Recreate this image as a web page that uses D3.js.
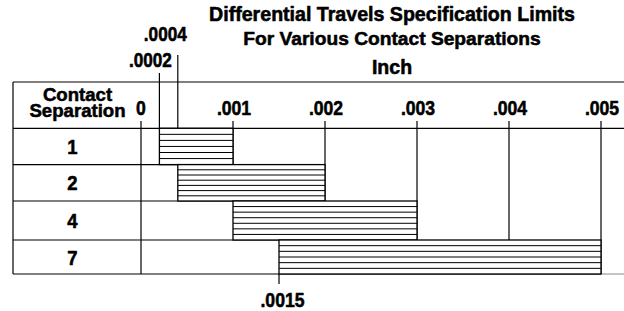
<!DOCTYPE html>
<html>
<head>
<meta charset="utf-8">
<script src="https://cdn.jsdelivr.net/npm/d3@7"></script>
<style>
  html, body { margin: 0; padding: 0; background: #fff; }
  svg { display: block; }
  text { font-family: "Liberation Sans", Arial, Helvetica, sans-serif; font-weight: bold; fill: #000;
         stroke: #000; stroke-width: 0.55px; stroke-linejoin: round; }
</style>
</head>
<body>
<svg id="chart" width="624" height="311"></svg>
<script>
// ---------- data ----------
const titleLines = ["Differential Travels Specification Limits", "For Various Contact Separations", "Inch"];
const headerLabel = ["Contact", "Separation"];
const rowLabels = ["1", "2", "4", "7"];
const limitMin = [0.0002, 0.0004, 0.001, 0.0015];
const limitMax = [0.001, 0.002, 0.003, 0.005];
const tickValues = [0, 0.001, 0.002, 0.003, 0.004, 0.005];
const tickLabels = ["0", ".001", ".002", ".003", ".004", ".005"];
const topCalloutValues = [0.0002, 0.0004];
const topCalloutLabels = [".0002", ".0004"];
const bottomCalloutValues = [0.0015];
const bottomCalloutLabels = [".0015"];

// ---------- layout ----------
const tableLeft = 13, tableRight = 624;
const headerTop = 82;
const numScale = 0.88; // narrow numerals
const svg = d3.select("#chart");

const x = d3.scaleLinear().domain([0, 0.005]).range([141, 601]);
const rowEdge = d3.scaleLinear().domain([0, 1, 2, 3, 4]).range([128.3, 164.6, 201, 240, 274]);
const tableBottom = rowEdge(rowLabels.length);

const rows = rowLabels.map((l, i) => ({ label: l, min: limitMin[i], max: limitMax[i], i,
  y0: rowEdge(i), y1: rowEdge(i + 1) }));

function numText(parent, tx, ty, str, size) {
  return parent.append("text")
    .attr("transform", `translate(${tx},${ty}) scale(${numScale},1)`)
    .attr("text-anchor", "middle").style("font-size", size + "px").text(str);
}

// ---------- title ----------
const titleY = [20.7, 45, 73.5];
const titleSize = [19.6, 19.2, 19.5];
svg.append("g").selectAll("text").data(titleLines).join("text")
  .attr("x", 392).attr("y", (d, i) => titleY[i])
  .attr("text-anchor", "middle")
  .style("font-size", (d, i) => titleSize[i] + "px")
  .text(d => d);

const line = (g, x1, y1, x2, y2, w = 1.2, c = "#000") =>
  g.append("line").attr("x1", x1).attr("y1", y1).attr("x2", x2).attr("y2", y2)
    .attr("stroke", c).attr("stroke-width", w);

const grid = svg.append("g");

// table frame
line(grid, tableLeft, headerTop, tableRight, headerTop);
line(grid, tableLeft, rowEdge(0), tableRight, rowEdge(0));
line(grid, tableLeft, headerTop, tableLeft, tableBottom);
line(grid, tableLeft, tableBottom, x(0.005), tableBottom);
line(grid, x(0.005), tableBottom, tableRight, tableBottom, 1, "#888");

// row separators
rows.slice(1).forEach(r => line(grid, tableLeft, r.y0, x(r.min), r.y0));

// tick lines
tickValues.forEach(v => {
  const r = rows.find(r => r.min <= v && v <= r.max);
  let yEnd = tableBottom;
  if (r) yEnd = (v === r.min || v === r.max) ? r.y1 : r.y0;
  line(grid, x(v), 121, x(v), yEnd);
});

// top callouts
const calloutBase = [67, 40.5], calloutLineTop = [73, 55], calloutDx = [-9, -12.5];
topCalloutValues.forEach((v, k) => {
  line(grid, x(v), calloutLineTop[k], x(v), rowEdge(0));
  numText(svg, x(v) + calloutDx[k], calloutBase[k], topCalloutLabels[k], 19.5);
});

// bars with horizontal hatching
const barG = svg.append("g");
rows.forEach(r => {
  const g = barG.append("g");
  g.append("rect").attr("x", x(r.min)).attr("y", r.y0)
    .attr("width", x(r.max) - x(r.min)).attr("height", r.y1 - r.y0)
    .attr("fill", "#fff");
  const h = r.y1 - r.y0;
  const n = Math.round(h / 5.6);
  const ys = d3.range(1, n).map(k => r.y0 + k * h / n);
  g.selectAll("line.h").data(ys).join("line").attr("class", "h")
    .attr("x1", x(r.min)).attr("x2", x(r.max))
    .attr("y1", d => d).attr("y2", d => d)
    .attr("stroke", "#000").attr("stroke-width", 1);
  g.append("rect").attr("x", x(r.min)).attr("y", r.y0)
    .attr("width", x(r.max) - x(r.min)).attr("height", r.y1 - r.y0)
    .attr("fill", "none").attr("stroke", "#000").attr("stroke-width", 1.3);
});

// bottom callout
bottomCalloutValues.forEach((v, k) => {
  line(grid, x(v), tableBottom, x(v), 284);
  numText(svg, x(v) + 3.5, 306.5, bottomCalloutLabels[k], 20);
});

// header label (one text, two lines)
const hdr = svg.append("text").attr("text-anchor", "middle").style("font-size", "18.6px");
hdr.selectAll("tspan").data(headerLabel).join("tspan")
  .attr("x", 77.5).attr("y", (d, i) => [101.3, 116.5][i]).text(d => d);

const tickG = svg.append("g");
tickValues.forEach((v, i) => numText(tickG, x(v) + (v === 0 ? 0 : 1), 114.5, tickLabels[i], 20));

// row labels
const rowG = svg.append("g");
rows.forEach(r => numText(rowG, 72.5, (r.y0 + r.y1) / 2 + 7.5, r.label, 21));
</script>
</body>
</html>
